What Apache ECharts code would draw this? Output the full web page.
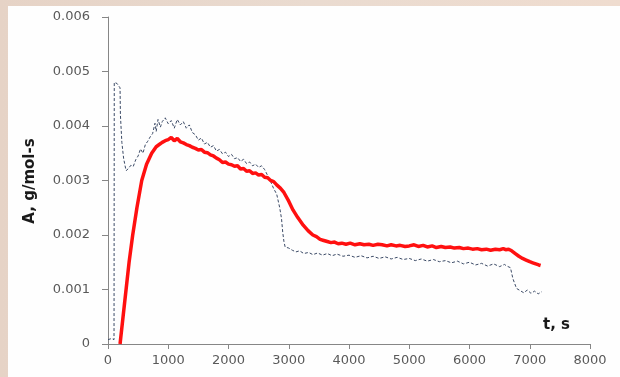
<!DOCTYPE html>
<html><head><meta charset="utf-8">
<script src="https://cdn.jsdelivr.net/npm/echarts@6/dist/echarts.min.js"></script>
<style>html,body{margin:0;padding:0;}#c{width:620px;height:377px;}</style>
</head><body><div id="c"></div>
<script>
var xTicks = [0,1000,2000,3000,4000,5000,6000,7000,8000];
var yTicks = [0,0.001,0.002,0.003,0.004,0.005,0.006];
var xName = 't, s';
var yName = 'A, g/mol-s';

var redT = [200,250,300,350,410,480,560,640,725,800,850,900,950,1000,1050,1100,1150,1200,1250,1300,1350,1400,1450,1500,1550,1600,1650,1700,1750,1800,1850,1900,1950,2000,2050,2100,2150,2200,2250,2300,2350,2400,2450,2500,2550,2600,2650,2700,2750,2800,2860,2920,3000,3070,3150,3240,3320,3400,3460,3520,3580,3640,3700,3760,3820,3880,3950,4020,4100,4180,4250,4330,4400,4480,4550,4630,4700,4780,4850,4930,5000,5080,5150,5230,5300,5380,5450,5530,5600,5680,5750,5830,5900,5980,6050,6130,6200,6280,6350,6430,6500,6560,6600,6650,6700,6760,6820,6880,6940,7000,7050,7100,7150,7180];
var redA = [0,0.0005,0.001,0.0015,0.002,0.0025,0.003,0.0033,0.0035,0.00362,0.00366,0.0037,0.00373,0.00375,0.00379,0.00373,0.00377,0.00371,0.00369,0.00366,0.00364,0.00361,0.00359,0.00356,0.00357,0.00352,0.00351,0.00347,0.00345,0.00341,0.00338,0.00333,0.00334,0.0033,0.00329,0.00326,0.00327,0.00321,0.00322,0.00317,0.00318,0.00313,0.00314,0.0031,0.00311,0.00306,0.00305,0.003,0.00298,0.00292,0.00286,0.00278,0.00262,0.00246,0.00232,0.00218,0.00208,0.002,0.00197,0.00192,0.00190,0.00188,0.00186,0.00187,0.00184,0.00185,0.00183,0.00185,0.00182,0.00184,0.00182,0.00183,0.00181,0.00183,0.00182,0.00180,0.00182,0.00180,0.00181,0.00179,0.00180,0.00182,0.00179,0.00181,0.00178,0.00180,0.00177,0.00179,0.00177,0.00178,0.00176,0.00177,0.00175,0.00176,0.00174,0.00175,0.00173,0.00174,0.00172,0.00174,0.00173,0.00175,0.00173,0.00174,0.00171,0.00166,0.00161,0.00157,0.00154,0.00151,0.00149,0.00147,0.00145,0.00144];

var dashT = [0,60,100,104,150,200,206,230,260,300,340,380,420,460,500,540,580,620,660,700,740,780,800,830,870,900,950,1000,1050,1100,1150,1200,1250,1300,1350,1400,1450,1500,1550,1600,1650,1700,1750,1800,1850,1900,1950,2000,2050,2100,2150,2200,2250,2300,2350,2400,2450,2500,2550,2600,2650,2700,2750,2800,2850,2880,2900,2920,2940,3000,3060,3120,3180,3250,3330,3400,3480,3560,3640,3720,3800,3900,4000,4100,4200,4300,4400,4500,4600,4700,4800,4900,5000,5100,5200,5300,5400,5500,5600,5700,5800,5900,6000,6100,6200,6300,6400,6500,6580,6620,6650,6680,6720,6780,6840,6900,6960,7020,7080,7140,7200];
var dashA = [0.00008,0.0001,0.00008,0.0048,0.00478,0.0047,0.0042,0.0037,0.0034,0.00318,0.00322,0.00328,0.00326,0.00338,0.00345,0.00358,0.0035,0.00366,0.00372,0.0038,0.00386,0.00405,0.0039,0.00412,0.00398,0.00408,0.00415,0.00404,0.0041,0.00396,0.00412,0.00402,0.00408,0.00396,0.00402,0.00388,0.00384,0.00374,0.00378,0.00367,0.0037,0.00361,0.00364,0.00354,0.00357,0.00349,0.00352,0.00344,0.00348,0.0034,0.00342,0.00335,0.00339,0.00331,0.00334,0.00327,0.0033,0.00324,0.00327,0.0032,0.00309,0.00298,0.00285,0.00275,0.0025,0.0023,0.00205,0.00188,0.00178,0.00176,0.00172,0.00169,0.00171,0.00166,0.00168,0.00164,0.00167,0.00163,0.00166,0.00162,0.00165,0.00161,0.00163,0.00159,0.00162,0.00158,0.00161,0.00157,0.0016,0.00156,0.00159,0.00155,0.00157,0.00153,0.00156,0.00152,0.00155,0.00151,0.00153,0.00149,0.00152,0.00147,0.0015,0.00145,0.00148,0.00143,0.00147,0.00142,0.00146,0.00143,0.00146,0.0014,0.0012,0.00102,0.00098,0.00094,0.00099,0.00093,0.00097,0.00092,0.00096,0.00093];

function pairs(a,b){var r=[];for(var i=0;i<a.length;i++)r.push([a[i],b[i]]);return r;}

var chart = echarts.init(document.getElementById('c'), null, {renderer:'canvas'});
var labelStyle = {color:'#595959', fontFamily:'DejaVu Sans', fontSize:13};
chart.setOption({
  animation:false,
  backgroundColor:{type:'linear',x:0,y:0,x2:1,y2:0,colorStops:[{offset:0,color:'#e6d3c6'},{offset:0.5,color:'#eadbd0'},{offset:1,color:'#efdccf'}]},
  graphic:[
    {type:'rect',left:8,top:6,shape:{width:612,height:371},style:{fill:'#fefefe'},z:-10},
    {type:'text',left:543,top:318,style:{text:xName,font:'bold 15px "DejaVu Sans"',fill:'#1a1a1a'}},
    {type:'text',x:38,y:181,rotation:Math.PI/2,style:{text:yName,font:'bold 15px "DejaVu Sans"',fill:'#1a1a1a',align:'center',verticalAlign:'bottom'}}
  ],
  grid:{left:108,right:30,top:17,bottom:33,containLabel:false},
  xAxis:{type:'value',min:xTicks[0],max:xTicks[xTicks.length-1],interval:1000,
    axisLine:{lineStyle:{color:'#868686'}},axisTick:{length:5,lineStyle:{color:'#868686'}},
    splitLine:{show:false},axisLabel:Object.assign({margin:10,formatter:function(v){return String(Math.round(v));}},labelStyle)},
  yAxis:{type:'value',min:yTicks[0],max:yTicks[yTicks.length-1],interval:0.001,
    axisLine:{show:true,lineStyle:{color:'#868686'}},axisTick:{show:true,length:6,lineStyle:{color:'#868686'}},
    splitLine:{show:false},axisLabel:Object.assign({margin:18,formatter:function(v){return String(+v.toFixed(3));}},labelStyle)},
  series:[
    {type:'line',data:pairs(dashT,dashA),showSymbol:false,lineStyle:{color:'#3b4a66',width:1,type:[3,2]},z:2},
    {type:'line',data:pairs(redT,redA),showSymbol:false,lineStyle:{color:'#ff1010',width:3.5},z:3}
  ]
});
</script></body></html>
